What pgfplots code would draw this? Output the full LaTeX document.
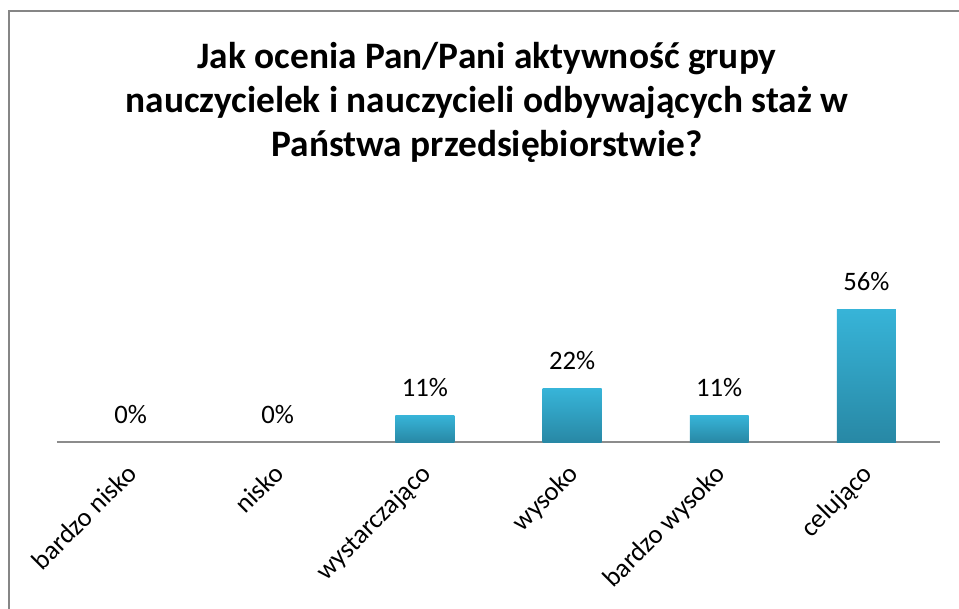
\documentclass[border=0pt]{standalone}
\usepackage{pgfplots}
\pgfplotsset{compat=1.18}
\usepackage{fontspec}
\setmainfont{Carlito}
\definecolor{bartop}{RGB}{55,180,216}
\definecolor{barbot}{RGB}{40,136,165}
\definecolor{framegray}{RGB}{134,134,134}
\definecolor{axisgray}{RGB}{140,140,140}
\begin{document}
\begin{tikzpicture}
\draw[framegray, line width=0.75pt] (3.19pt,-240pt) -- (3.19pt,-4.31pt) -- (370pt,-4.31pt);
\node[font=\fontsize{14}{16.5}\selectfont\bfseries, align=center] at (182.6pt,-38.6pt)
  {Jak ocenia Pan/Pani aktywność grupy\\nauczycielek i nauczycieli odbywających staż w\\Państwa przedsiębiorstwie?};
\begin{axis}[
  at={(21.375pt,-165.75pt)}, anchor=south west,
  scale only axis, width=331.125pt, height=89.6pt,
  xmin=-0.5, xmax=5.5, ymin=0, ymax=100,
  axis y line=none, axis x line*=bottom,
  x axis line style={axisgray, line width=0.75pt, -},
  xtick={0,1,2,3,4,5},
  xticklabels={bardzo nisko, nisko, wystarczająco, wysoko, bardzo wysoko, celująco},
  major tick length=0pt,
  xticklabel style={font=\fontsize{10}{12}\selectfont, xshift=-2.1pt, yshift=-5.9pt, rotate=45, anchor=north east, inner sep=1pt},
  ytick=\empty,
  clip=false,
  no markers,
  /pgf/number format/assume math mode=true,
  every axis plot/.append style={ybar, bar width=22.1pt, bar shift=0pt, draw=none,
    top color=bartop, bottom color=barbot, point meta=explicit symbolic,
    nodes near coords, every node near coord/.style={font=\fontsize{10}{12}\selectfont, text=black, yshift=3.5pt}},
]
\addplot coordinates {(0,0) [0\%]};
\addplot coordinates {(1,0) [0\%]};
\addplot coordinates {(2,11.11) [11\%]};
\addplot coordinates {(3,22.22) [22\%]};
\addplot coordinates {(4,11.11) [11\%]};
\addplot coordinates {(5,55.56) [56\%]};
\end{axis}
\pgfresetboundingbox
\useasboundingbox (0,0) rectangle (359.625pt,-228pt);
\end{tikzpicture}
\end{document}
